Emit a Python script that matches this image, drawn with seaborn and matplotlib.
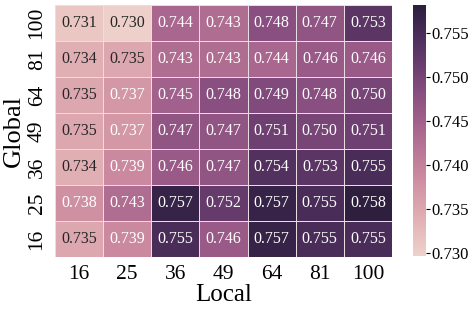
import numpy as np
import pandas as pd
import seaborn as sns
import matplotlib
matplotlib.use('Agg')
import matplotlib.pyplot as plt

local_sizes = [16, 25, 36, 49, 64, 81, 100]
global_sizes = [100, 81, 64, 49, 36, 25, 16]

# rows: Global (top to bottom), columns: Local
acc = [
    [0.731, 0.730, 0.744, 0.743, 0.748, 0.747, 0.753],
    [0.734, 0.735, 0.743, 0.743, 0.744, 0.746, 0.746],
    [0.735, 0.737, 0.745, 0.748, 0.749, 0.748, 0.750],
    [0.735, 0.737, 0.747, 0.747, 0.751, 0.750, 0.751],
    [0.734, 0.739, 0.746, 0.747, 0.754, 0.753, 0.755],
    [0.738, 0.743, 0.757, 0.752, 0.757, 0.755, 0.758],
    [0.735, 0.739, 0.755, 0.746, 0.757, 0.755, 0.755],
]

if __name__ == '__main__':

  data = pd.DataFrame(acc, index=global_sizes, columns=local_sizes)

  plt.rcParams['font.family'] = ['Liberation Serif', 'DejaVu Serif']

  fig = plt.figure(figsize=(4.76, 3.12), dpi=100)
  ax = fig.add_axes([0.1155, 0.1763, 0.708, 0.808])
  cax = fig.add_axes([0.8676, 0.1795, 0.027, 0.805])

  cmap = sns.cubehelix_palette(as_cmap=True)
  sns.heatmap(data, ax=ax, cbar_ax=cax, cmap=cmap,
              annot=True, fmt='.3f', annot_kws={'fontsize': 11.5},
              linewidths=0.5, linecolor='#e8dde3',
              vmin=0.7297, vmax=0.7582,
              cbar_kws={'ticks': [0.730, 0.735, 0.740, 0.745, 0.750, 0.755]})

  ax.set_xlabel('Local', fontsize=18, labelpad=0)
  ax.set_ylabel('Global', fontsize=19, labelpad=2)
  ax.tick_params(axis='both', length=0, labelsize=15.5, pad=6)
  ax.set_yticklabels(global_sizes, rotation=90, va='center')
  ax.set_xticklabels(local_sizes, rotation=0)

  cax.tick_params(labelsize=12, length=3, width=0.8, pad=1)
  cax.yaxis.set_major_formatter(matplotlib.ticker.FormatStrFormatter('%.3f'))
  ax.collections[0].colorbar.outline.set_visible(False)

  fig.savefig('out.png', dpi=100)
